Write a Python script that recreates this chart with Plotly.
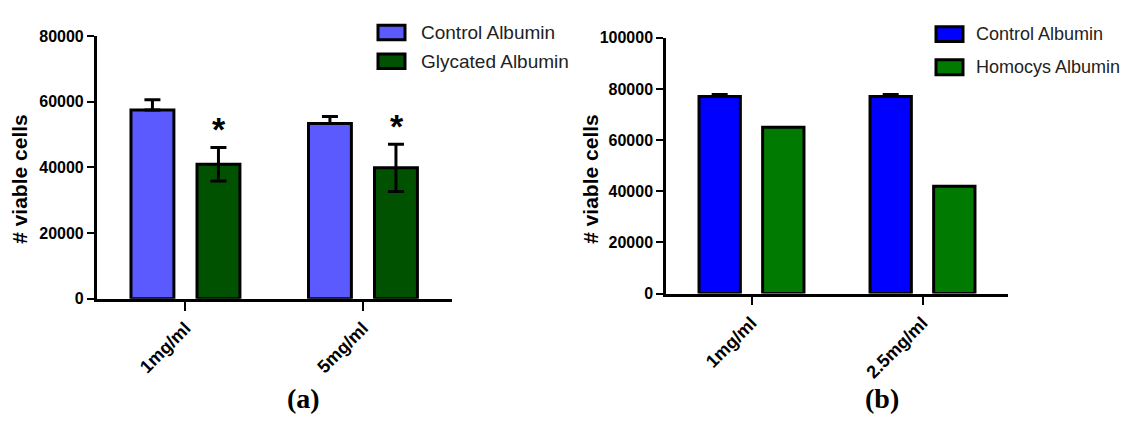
import plotly.graph_objects as go

# ---------------- data ----------------
cats_a = ["1mg/ml", "5mg/ml"]
names_a = ["Control Albumin", "Glycated Albumin"]
control_a = [57500, 53400]
control_a_err = [3100, 2100]
glycated_a = [41000, 39900]
glycated_a_err = [5100, 7200]
star_a = ["*", "*"]

cats_b = ["1mg/ml", "2.5mg/ml"]
names_b = ["Control Albumin", "Homocys Albumin"]
control_b = [77000, 77000]
control_b_err = [800, 800]
homocys_b = [65000, 42000]

ytick_a = [0, 20000, 40000, 60000, 80000]
ytick_b = [0, 20000, 40000, 60000, 80000, 100000]
ytitle = "# viable cells"
panel_labels = ["(a)", "(b)"]

# ---------------- style ----------------
W, H = 1127, 424
col_a = ["#5a5aff", "#005200"]
col_b = ["#0000ff", "#007a00"]
ytick_font = dict(family="Arial, Liberation Sans, sans-serif", size=16, color="black", weight="bold")
xtick_font = dict(family="Arial, Liberation Sans, sans-serif", size=18, color="black", weight="bold")


def px_x(p):
    return p / W


def px_y(p):
    return 1 - p / H


fig = go.Figure()

bar_line = dict(color="black", width=3)
err_style = dict(color="black", thickness=3, width=8)

fig.add_trace(go.Bar(x=cats_a, y=control_a, name=names_a[0], marker=dict(color=col_a[0], line=bar_line),
                     error_y=dict(type="data", array=control_a_err, arrayminus=[0] * len(control_a), symmetric=False, **err_style),
                     xaxis="x", yaxis="y", showlegend=False))
fig.add_trace(go.Bar(x=cats_a, y=glycated_a, name=names_a[1], marker=dict(color=col_a[1], line=bar_line),
                     error_y=dict(type="data", array=glycated_a_err, **err_style),
                     xaxis="x", yaxis="y", showlegend=False))
fig.add_trace(go.Bar(x=cats_b, y=control_b, name=names_b[0], marker=dict(color=col_b[0], line=bar_line),
                     error_y=dict(type="data", array=control_b_err, arrayminus=[0] * len(control_b), symmetric=False, **err_style),
                     xaxis="x2", yaxis="y2", showlegend=False))
fig.add_trace(go.Bar(x=cats_b, y=homocys_b, name=names_b[1], marker=dict(color=col_b[1], line=bar_line),
                     xaxis="x2", yaxis="y2", showlegend=False))

axis_common = dict(showline=True, linecolor="black", linewidth=2.5, ticks="outside", tickcolor="black",
                   tickwidth=2, showgrid=False, zeroline=False)

fig.update_layout(
    width=W, height=H,
    margin=dict(l=0, r=0, t=0, b=0),
    paper_bgcolor="white", plot_bgcolor="white",
    barmode="group", bargap=0.256, bargroupgap=0.35,
    xaxis=dict(domain=[px_x(96.7), px_x(451.7)], anchor="y", type="category", range=[-0.5, 1.5],
               tickangle=-45, ticklen=9, tickfont=xtick_font, **axis_common),
    yaxis=dict(domain=[px_y(303), px_y(29.3)], anchor="x", range=[0, 80000], tickvals=ytick_a,
               ticktext=[str(v) for v in ytick_a], ticklen=7, tickfont=ytick_font, **axis_common),
    xaxis2=dict(domain=[px_x(666), px_x(1008)], anchor="y2", type="category", range=[-0.5, 1.5],
                tickangle=-45, ticklen=9, tickfont=xtick_font, **axis_common),
    yaxis2=dict(domain=[px_y(297.5), px_y(31)], anchor="x2", range=[0, 100000], tickvals=ytick_b,
                ticktext=[str(v) for v in ytick_b], ticklen=7, tickfont=ytick_font, **axis_common),
)

# significance stars above glycated bars
for c, v, e, s in zip(cats_a, glycated_a, glycated_a_err, star_a):
    fig.add_annotation(x=c, y=v + e, xref="x", yref="y", text=s, showarrow=False, xshift=34, yshift=-3,
                       xanchor="center", yanchor="bottom",
                       font=dict(family="Arial, Liberation Sans", size=34, color="black", weight="bold"))

# axis titles
for xc in [20, 591]:
    fig.add_annotation(x=px_x(xc), y=px_y(178), xref="paper", yref="paper", text=ytitle, textangle=-90,
                       showarrow=False, xanchor="center", yanchor="middle",
                       font=dict(family="Arial, Liberation Sans", size=21, color="black", weight="bold"))

# panel labels
for xc, lab in zip([303, 882], panel_labels):
    fig.add_annotation(x=px_x(xc), y=px_y(407), xref="paper", yref="paper", text=lab, showarrow=False,
                       xanchor="center", yanchor="middle",
                       font=dict(family="Liberation Serif, Times New Roman, serif", size=28, color="black", weight="bold"))

# manual legends
for (bx, tx, fs, ys, names, cols) in [(378, 419, 19, [(18, 33), (48, 63)], names_a, col_a),
                                       (936, 974, 18, [(19.5, 35), (54, 69.5)], names_b, col_b)]:
    leg_font = dict(family="Arial, Liberation Sans", size=fs, color="#222222")
    for (y0, y1), nm, cl in zip(ys, names, cols):
        fig.add_shape(type="rect", xref="paper", yref="paper", x0=px_x(bx), x1=px_x(bx + 27),
                      y0=px_y(y1), y1=px_y(y0), fillcolor=cl, line=dict(color="black", width=3))
        fig.add_annotation(x=px_x(tx), y=px_y((y0 + y1) / 2), xref="paper", yref="paper", text=nm,
                           showarrow=False, xanchor="left", yanchor="middle", font=leg_font)

fig.write_html("out.html")
